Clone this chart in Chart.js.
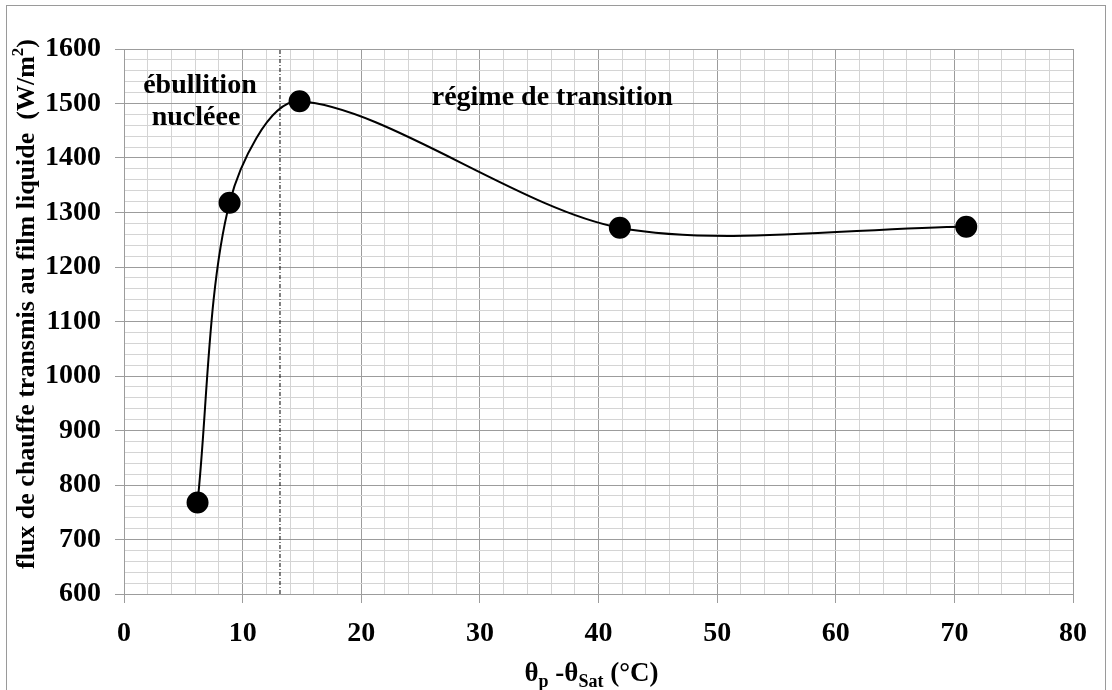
<!DOCTYPE html>
<html>
<head>
<meta charset="utf-8">
<script src="https://cdn.jsdelivr.net/npm/chart.js@4/dist/chart.umd.min.js"></script>
<style>
html,body{margin:0;padding:0;background:#fff;}
#wrap{width:1112px;height:690px;position:relative;}
</style>
</head>
<body>
<div id="wrap"><canvas id="c" width="1112" height="690"></canvas></div>
<script>
// Data
const xValues = [6.2, 8.9, 14.8, 41.8, 71.0];
const yValues = [768, 1318, 1504, 1272, 1274];
const boundaryX = [13.15, 13.15];
const boundaryY = [600, 1600];
const xTickLabels = ['0','10','20','30','40','50','60','70','80'];
const yTickLabels = ['600','700','800','900','1000','1100','1200','1300','1400','1500','1600'];
const yTitleMain = 'flux de chauffe transmis au film liquide  (W/m';
const yTitleSup = '2';
const yTitleEnd = ')';
const annotations = [
  {text: 'ébullition', x: 6.4, y: 1519},
  {text: 'nucléee', x: 6.07, y: 1461},
  {text: 'régime de transition', x: 36.1, y: 1497}
];

const FONT = '"Liberation Serif", "Times New Roman", serif';

const mainPts = xValues.map((x, i) => ({x, y: yValues[i]}));
const linePts = boundaryX.map((x, i) => ({x, y: boundaryY[i]}));

const decor = {
  id: 'decor',
  afterDraw(chart) {
    const ctx = chart.ctx;
    const xs = chart.scales.x, ys = chart.scales.y;
    ctx.save();
    // outer frame
    ctx.strokeStyle = '#9a9a9a';
    ctx.lineWidth = 1;
    ctx.strokeRect(6.5, 5.5, 1099, 700);
    // annotations
    ctx.fillStyle = '#000';
    ctx.font = 'bold 28px ' + FONT;
    ctx.textAlign = 'center';
    ctx.textBaseline = 'alphabetic';
    annotations.forEach(a => {
      ctx.fillText(a.text, xs.getPixelForValue(a.x), ys.getPixelForValue(a.y));
    });
    // x axis title with subscripts
    const cx = (chart.chartArea.left + chart.chartArea.right) / 2 - 7;
    const by = 681;
    const parts = [
      {t: 'θ', f: 'bold 27px ', dy: 0},
      {t: 'p', f: 'bold 18px ', dy: 6},
      {t: ' -θ', f: 'bold 27px ', dy: 0},
      {t: 'Sat', f: 'bold 18px ', dy: 6},
      {t: ' (°C)', f: 'bold 27px ', dy: 0}
    ];
    let total = 0;
    parts.forEach(p => { ctx.font = p.f + FONT; p.w = ctx.measureText(p.t).width; total += p.w; });
    let px = cx - total / 2;
    ctx.textAlign = 'left';
    parts.forEach(p => { ctx.font = p.f + FONT; ctx.fillText(p.t, px, by + p.dy); px += p.w; });
    // y axis title rotated with superscript
    ctx.translate(34, 304);
    ctx.rotate(-Math.PI / 2);
    const yparts = [
      {t: yTitleMain, f: 'bold 26px ', dy: 0},
      {t: yTitleSup, f: 'bold 17px ', dy: -11},
      {t: yTitleEnd, f: 'bold 26px ', dy: 0}
    ];
    total = 0;
    yparts.forEach(p => { ctx.font = p.f + FONT; p.w = ctx.measureText(p.t).width; total += p.w; });
    px = -total / 2;
    yparts.forEach(p => { ctx.font = p.f + FONT; ctx.fillText(p.t, px, p.dy); px += p.w; });
    ctx.restore();
  }
};

new Chart(document.getElementById('c'), {
  type: 'scatter',
  data: {
    datasets: [
      {
        data: mainPts,
        showLine: true,
        borderColor: '#000',
        borderWidth: 2,
        backgroundColor: '#000',
        pointRadius: 10,
        pointHoverRadius: 10,
        tension: 0.3,
        order: 1
      },
      {
        data: linePts,
        showLine: true,
        borderColor: '#000',
        borderWidth: 1,
        borderDash: [4, 2, 1, 2],
        pointRadius: 0,
        order: 2
      }
    ]
  },
  plugins: [decor],
  options: {
    responsive: false,
    animation: false,
    events: [],
    layout: {padding: {left: 0, top: 49, right: 39, bottom: 0}},
    plugins: {legend: {display: false}, tooltip: {enabled: false}},
    scales: {
      x: {
        type: 'linear',
        min: 0, max: 80,
        afterFit(s) { s.height = 96; },
        afterBuildTicks(s) {
          const t = [];
          for (let v = 0; v <= 80; v += 2) t.push({value: v});
          s.ticks = t;
        },
        ticks: {
          autoSkip: false,
          maxRotation: 0,
          padding: 14,
          color: '#000',
          font: {family: FONT, size: 28, weight: 'bold'},
          callback(v) { return v % 10 === 0 ? xTickLabels[v / 10] : ''; }
        },
        grid: {
          color(c) { const v = c.tick ? c.tick.value : 0; return v % 10 === 0 ? '#9c9c9c' : '#d4d4d4'; },
          tickColor(c) { const v = c.tick ? c.tick.value : 0; return v % 10 === 0 ? '#9c9c9c' : 'rgba(0,0,0,0)'; },
          tickLength: 9,
          lineWidth: 1
        },
        border: {color: '#9c9c9c'}
      },
      y: {
        type: 'linear',
        min: 600, max: 1600,
        afterFit(s) { s.width = 124; },
        afterBuildTicks(s) {
          const t = [];
          for (let v = 600; v <= 1600; v += 20) t.push({value: v});
          s.ticks = t;
        },
        ticks: {
          autoSkip: false,
          padding: 14,
          color: '#000',
          font: {family: FONT, size: 28, weight: 'bold'},
          callback(v) { return v % 100 === 0 ? yTickLabels[(v - 600) / 100] : ''; }
        },
        grid: {
          color(c) { const v = c.tick ? c.tick.value : 0; return v % 100 === 0 ? '#9c9c9c' : '#d4d4d4'; },
          tickColor(c) { const v = c.tick ? c.tick.value : 0; return v % 100 === 0 ? '#9c9c9c' : 'rgba(0,0,0,0)'; },
          tickLength: 9,
          lineWidth: 1
        },
        border: {color: '#9c9c9c'}
      }
    }
  }
});
</script>
</body>
</html>
